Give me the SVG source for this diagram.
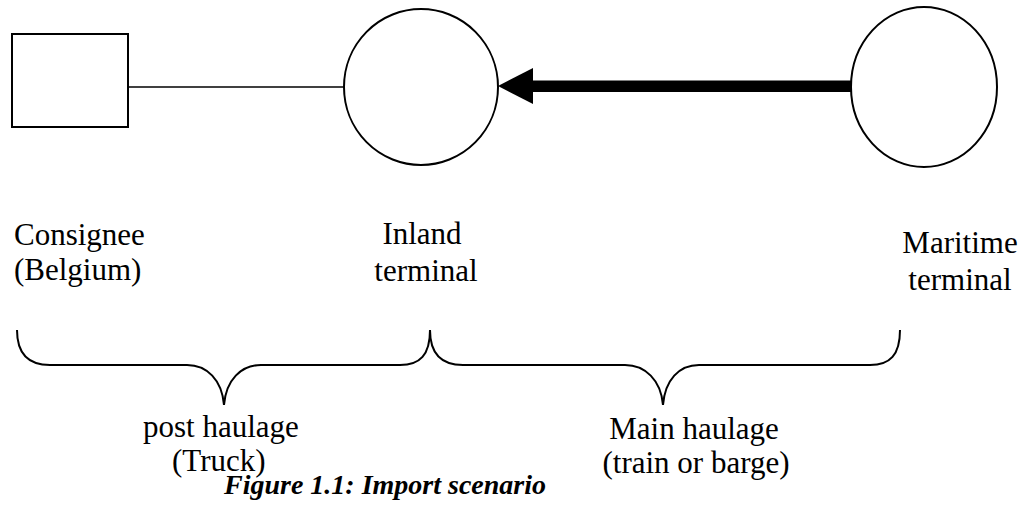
<svg xmlns="http://www.w3.org/2000/svg" width="1031" height="506" viewBox="0 0 1031 506">
<style>
.shape{fill:#fff;stroke:#000;stroke-width:2}
.brace{fill:none;stroke:#000;stroke-width:2}
.lbl{font-family:"Liberation Serif","Times New Roman",serif;font-size:31px;fill:#000}
.cap{font-family:"Liberation Serif","Times New Roman",serif;font-size:28px;font-weight:bold;font-style:italic;fill:#000}
</style>
<rect width="1031" height="506" fill="#fff"/>
<g id="connectors">
<line x1="128" y1="87" x2="344" y2="87" stroke="#000" stroke-width="1.5"/>
<rect x="531" y="80.5" width="321" height="11.5" fill="#000"/>
<polygon points="498,86 533,68 533,104" fill="#000"/>
</g>
<g id="consignee">
<rect class="shape" x="12" y="34" width="116" height="93"/>
<text class="lbl" x="14" y="245">Consignee</text>
<text class="lbl" x="14" y="280">(Belgium)</text>
</g>
<g id="inland-terminal">
<ellipse class="shape" cx="421" cy="87" rx="77" ry="78"/>
<text class="lbl" x="422" y="244" text-anchor="middle">Inland</text>
<text class="lbl" x="426" y="281" text-anchor="middle">terminal</text>
</g>
<g id="maritime-terminal">
<ellipse class="shape" cx="924" cy="87" rx="73" ry="80"/>
<text class="lbl" x="960" y="253" text-anchor="middle">Maritime</text>
<text class="lbl" x="960" y="290" text-anchor="middle">terminal</text>
</g>
<g id="post-haulage">
<path class="brace" d="M17,330 C17,355 30,365 50,365 L187,365 C207,365 222,380 224,405 C226,380 241,365 261,365 L400,365 C420,365 430,355 430,330"/>
<text class="lbl" x="143" y="437">post haulage</text>
<text class="lbl" x="172" y="471">(Truck)</text>
</g>
<g id="main-haulage">
<path class="brace" d="M430,330 C430,355 443,365 463,365 L625,365 C645,365 661,380 663,405 C665,380 679,365 699,365 L870,365 C890,365 900,355 900,330"/>
<text class="lbl" x="694" y="439" text-anchor="middle">Main haulage</text>
<text class="lbl" x="696" y="473" text-anchor="middle">(train or barge)</text>
</g>
<g id="caption">
<text class="cap" x="224" y="494">Figure 1.1: Import scenario</text>
</g>
</svg>
